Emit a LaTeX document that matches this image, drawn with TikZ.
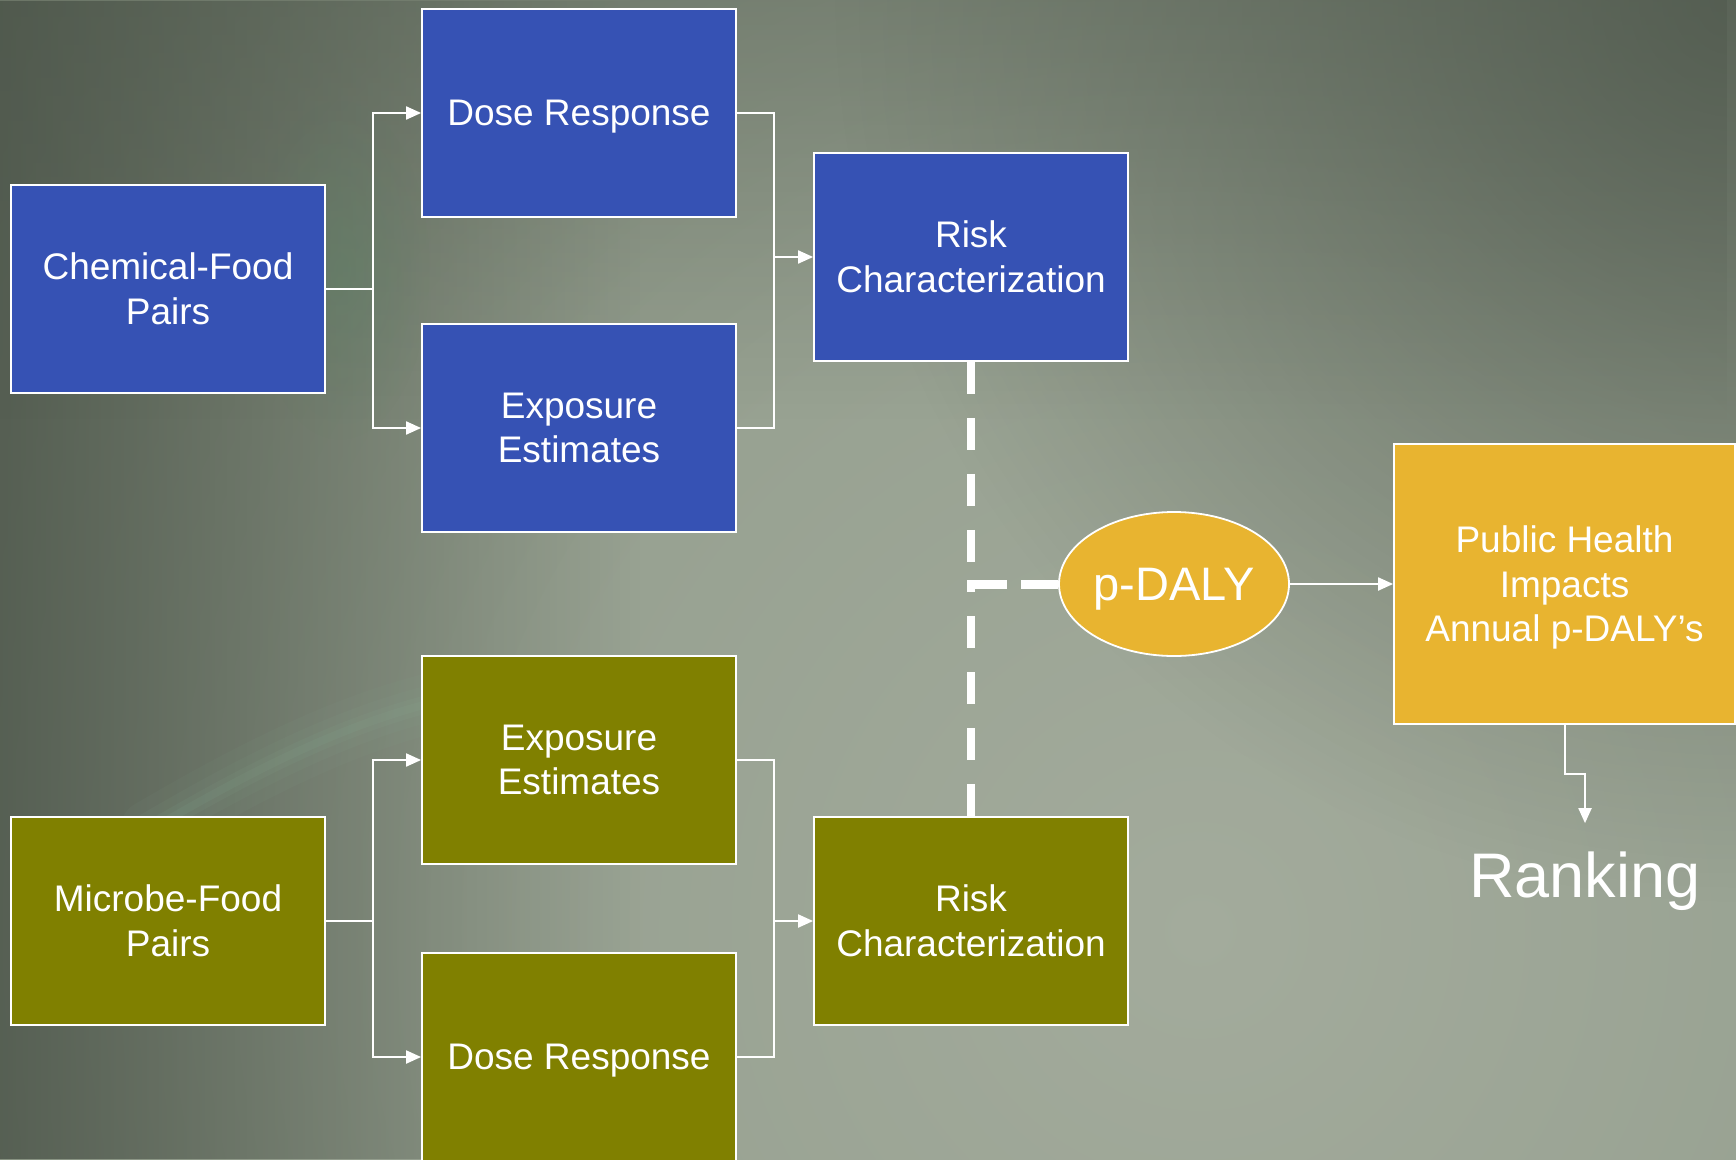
\documentclass[tikz,border=0pt]{standalone}
\usepackage{fontspec}
\setmainfont{Liberation Sans}
\usetikzlibrary{shapes.geometric,arrows.meta,fadings}
\definecolor{boxblue}{HTML}{3652B4}
\definecolor{boxolive}{HTML}{808000}
\definecolor{boxgold}{HTML}{E8B430}
\definecolor{bgA}{HTML}{A3AB9C}
\definecolor{bgB}{HTML}{97A191}
\definecolor{bgC}{HTML}{818C7B}
\definecolor{bgD}{HTML}{687262}
\definecolor{bgE}{HTML}{586154}
\definecolor{bgdark}{HTML}{4A5348}
\definecolor{glowgreen}{HTML}{8DB79B}
\definecolor{tintgreen}{HTML}{5E8266}
\pgfdeclareradialshading{bgshade}{\pgfpoint{0bp}{0bp}}{color(0bp)=(bgA); color(9.5bp)=(bgB); color(19bp)=(bgC); color(28.4bp)=(bgD); color(38bp)=(bgE); color(50bp)=(bgdark)}
\tikzfading[name=cornerfade, inner color=transparent!25, outer color=transparent!100]
\tikzfading[name=softblob, inner color=transparent!55, outer color=transparent!100]
\begin{document}
\begin{tikzpicture}[x=1pt,y=-1pt,
  bbox/.style={draw=white, line width=1.8pt, rectangle, minimum width=314pt, minimum height=208pt,
    inner sep=0pt, align=center, text=white, font=\fontsize{37}{44.5}\selectfont},
  conn/.style={draw=white, line width=2pt},
  connarrow/.style={conn, -{Triangle[length=15pt,width=13pt]}},
  dashline/.style={draw=white, line width=8pt, dash pattern=on 32pt off 24pt},
  glow/.style={draw=glowgreen, line cap=round}
]
\useasboundingbox (0,0) rectangle (1736,1159);
\clip (0,0) rectangle (1736,1159);
% background (unflipped scope so that fadings keep their direction)
\begin{scope}[y=1pt]
  \fill[bgdark] (0,0) rectangle (1736,-1159);
  \shade[shading=bgshade] (1200,-930) circle[radius=1900pt];
  \fill[bgdark, path fading=east, fill opacity=0.8] (0,0) rectangle (640,-1159);
  \fill[bgdark, path fading=south, fill opacity=0.35] (0,0) rectangle (1736,-420);
  \fill[bgdark, path fading=cornerfade] (1736,0) circle[radius=900pt];
  \fill[tintgreen, path fading=softblob] (340,-270) ellipse[x radius=90pt, y radius=170pt];
\end{scope}
% soft glow streak
\foreach \w/\o in {60/0.05, 36/0.06, 18/0.08, 8/0.09}{
  \draw[glow, line width=\w pt, draw opacity=\o] (150,830) .. controls (270,760) and (380,705) .. (500,690);
}

% top (chemical) branch
\node[bbox, fill=boxblue] (cf)  at (168,289) {Chemical-Food\\Pairs};
\node[bbox, fill=boxblue, text depth=0pt] (dr1) at (579,113) {Dose Response};
\node[bbox, fill=boxblue] (ee1) at (579,428) {Exposure\\Estimates};
\node[bbox, fill=boxblue] (rc1) at (971,257) {Risk\\Characterization};

% bottom (microbe) branch
\node[bbox, fill=boxolive] (mf)  at (168,921) {Microbe-Food\\Pairs};
\node[bbox, fill=boxolive] (ee2) at (579,760) {Exposure\\Estimates};
\node[bbox, fill=boxolive, text depth=0pt] (dr2) at (579,1057) {Dose Response};
\node[bbox, fill=boxolive] (rc2) at (971,921) {Risk\\Characterization};

% p-DALY and outcome
\node[ellipse, draw=white, line width=1.8pt, fill=boxgold, minimum width=230pt, minimum height=144pt,
  inner sep=0pt, text depth=0pt, text=white, font=\fontsize{47}{56}\selectfont] (daly) at (1174,584) {p-DALY};
\node[bbox, fill=boxgold, minimum width=341pt, minimum height=280pt] (ph) at (1564.5,584)
  {Public Health\\Impacts\\\raisebox{0pt}[\height][0pt]{Annual p-DALY’s}};
\node[anchor=base, inner sep=0pt, text=white, font=\fontsize{63}{75}\selectfont] (rk) at (1585,897) {Ranking};

% connectors, top
\coordinate (j1) at (373,289);
\draw[conn] (cf.east) -- (j1);
\draw[connarrow] (j1) |- (dr1.west);
\draw[connarrow] (j1) |- (ee1.west);
\coordinate (j2) at (774,257);
\draw[conn] (dr1.east) -| (j2) |- (ee1.east);
\draw[connarrow] (j2) -- (rc1.west);

% connectors, bottom
\coordinate (j3) at (373,921);
\draw[conn] (mf.east) -- (j3);
\draw[connarrow] (j3) |- (ee2.west);
\draw[connarrow] (j3) |- (dr2.west);
\coordinate (j4) at (774,921);
\draw[conn] (ee2.east) -| (j4) |- (dr2.east);
\draw[connarrow] (j4) -- (rc2.west);

% dashed link
\coordinate (dj) at (rc1.south |- daly.west);
\draw[dashline] (rc1.south) -- ([yshift=-4pt]dj);
\draw[dashline] (rc2.north) -- (dj);
\draw[dashline, line width=9pt, dash pattern=on 40pt off 14pt] ([xshift=-4pt]dj) -- (daly.west);

% outcome arrows
\draw[connarrow] (daly.east) -- (ph.west);
\draw[connarrow] (ph.south) -- ++(0,49) -| ([yshift=28pt]rk.north);
\end{tikzpicture}
\end{document}
